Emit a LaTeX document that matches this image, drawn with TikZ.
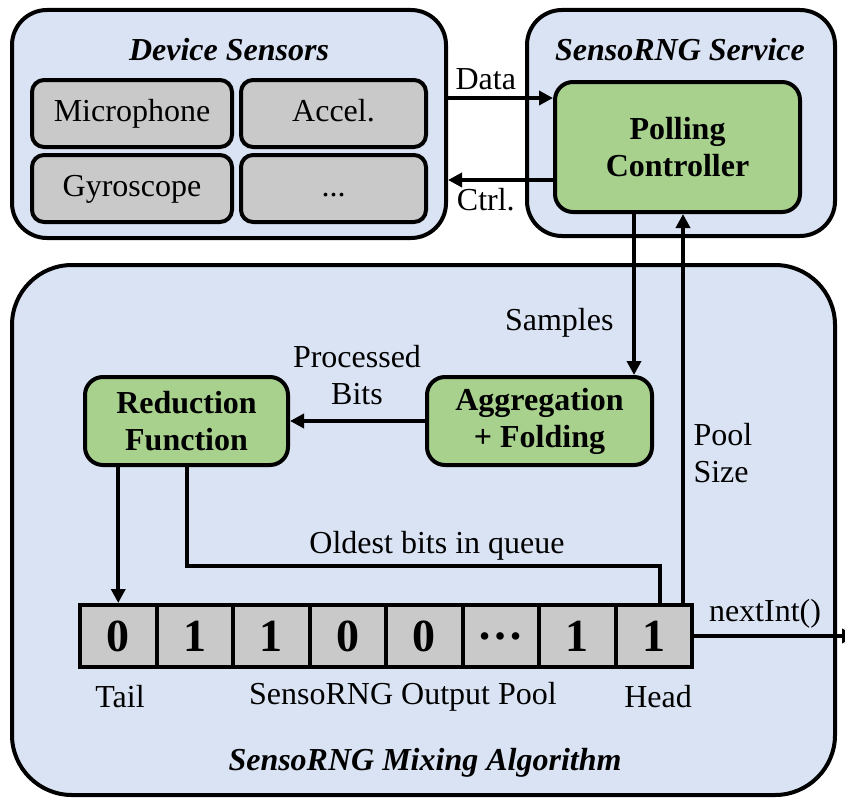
\documentclass[tikz,border=0pt]{standalone}
\usepackage{fontspec}
\setmainfont{Liberation Serif}
\usetikzlibrary{arrows.meta}
\definecolor{paleblue}{HTML}{DAE3F3}
\definecolor{leafgreen}{HTML}{A9D18E}
\definecolor{cellgray}{HTML}{C9C9C9}
\begin{document}
\begin{tikzpicture}[x=1pt,y=-1pt,
    font=\fontsize{32}{37}\selectfont,
    group/.style={draw,line width=4pt,fill=paleblue,inner sep=0pt},
    sensor/.style={draw,line width=4pt,fill=cellgray,rounded corners=12pt,minimum height=67pt,inner sep=0pt,text height=22pt,text depth=7pt},
    block/.style={draw,line width=4pt,fill=leafgreen,rounded corners=18pt,align=center,font=\fontsize{32}{37}\selectfont\bfseries,inner sep=0pt},
    cell/.style={draw,line width=4pt,fill=cellgray,minimum width=76.5pt,minimum height=62pt,inner sep=0pt,font=\fontsize{46}{46}\selectfont\bfseries},
    flow/.style={line width=4pt,-{Triangle[length=14pt,width=14pt]}},
    wire/.style={line width=4pt},
    title/.style={font=\fontsize{32}{37}\selectfont\bfseries\itshape}]
  \useasboundingbox (0,0) rectangle (845,800);
  \clip (0,0) rectangle (845,800);

  % Gruppen
  \node[group,rounded corners=35pt,minimum width=434pt,minimum height=228pt] (ds) at (229,124) {};
  \node[group,rounded corners=35pt,minimum width=308pt,minimum height=226pt] (svc) at (681,123) {};
  \node[group,rounded corners=60pt,minimum width=823pt,minimum height=530pt] (mix) at (423.5,530) {};

  \node[title] (dst) at (229,50) {Device Sensors};
  \node[title] (svct) at (680,50) {SensoRNG Service};
  \node[title] (mixt) at (425,763) {SensoRNG Mixing Algorithm};

  % Sensoren
  \node[sensor,minimum width=200pt] (mic) at (132,113.5) {Microphone};
  \node[sensor,minimum width=185pt] (acc) at (333.5,113.5) {Accel.};
  \node[sensor,minimum width=200pt] (gyr) at (132,188.5) {Gyroscope};
  \node[sensor,minimum width=185pt] (more) at (333.5,188.5) {...};

  % Bloecke
  \node[block,minimum width=245pt,minimum height=130pt] (pc) at (677.5,147) {Polling\\Controller};
  \node[block,minimum width=203pt,minimum height=88pt] (red) at (186.5,421) {Reduction\\Function};
  \node[block,minimum width=225pt,minimum height=88pt] (agg) at (539.5,421) {Aggregation\\+ Folding};

  % Pool
  \foreach \v [count=\i] in {0,1,1,0,0,\ldots,1,1} {
    \node[cell] (c\i) at ({80+76.5*(\i-0.5)},636) {\v};
  }

  % Spalten
  \coordinate (datay) at (0,98);
  \coordinate (ctrly) at (0,180);
  \coordinate (samp) at (634,0);
  \coordinate (size) at (683,0);
  \coordinate (old) at (660,566);
  \coordinate (out) at (856,636);

  % Verbindungen
  \draw[flow] (ds.east |- datay) -- (pc.west |- datay)
    node[pos=0.36,above=3pt] (datal) {Data};
  \draw[flow] (pc.west |- ctrly) -- (ds.east |- ctrly)
    node[pos=0.64,below=3pt] (ctrll) {Ctrl.};
  \draw[flow] (pc.south -| samp) -- (agg.north -| samp);
  \draw[flow] (c8.north -| size) -- (pc.south -| size);
  \draw[flow] (agg.west) -- (red.east);
  \draw[flow] (red.south -| c1) -- (c1.north);
  \draw[wire] (red.south) |- (old) -- (old |- c8.north);
  \draw[flow] (c8.east) -- (out);

  % Beschriftungen
  \node[anchor=east] (sampl) at (617,323) {Samples};
  \node[anchor=west,align=left] (sizel) at (690,453) {Pool\\Size};
  \node[align=center] (procl) at (357,375) {Processed\\Bits};
  \node (oldl) at (437,546) {Oldest bits in queue};
  \node (nextl) at (765,614) {nextInt()};
  \node (taill) at (120,697) {Tail};
  \node (pooll) at (403,697) {SensoRNG Output Pool};
  \node (headl) at (658,697) {Head};
\end{tikzpicture}
\end{document}
